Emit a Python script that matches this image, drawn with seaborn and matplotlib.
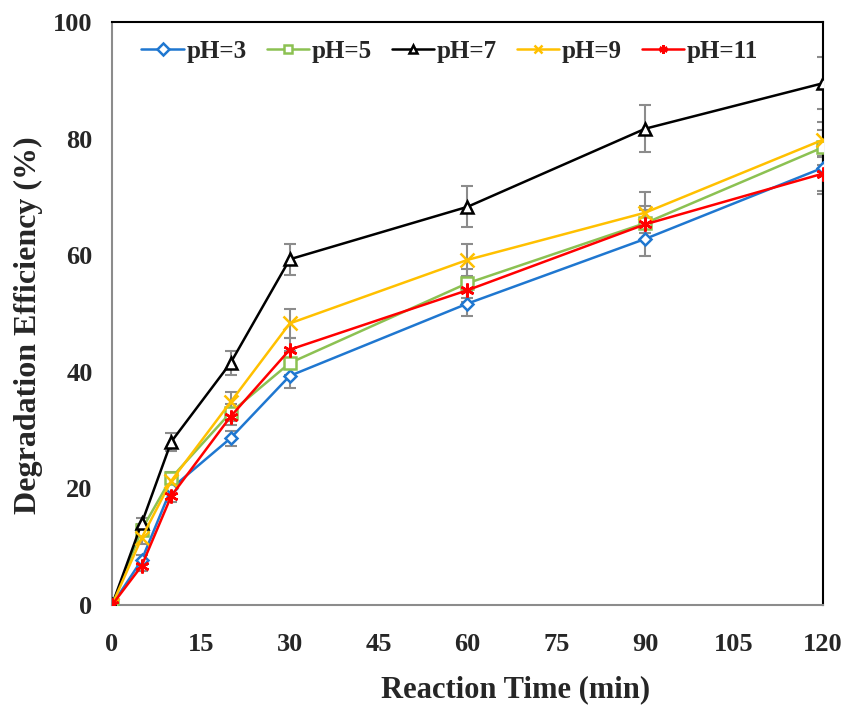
import numpy as np
import pandas as pd
import matplotlib
matplotlib.use("Agg")
import matplotlib.pyplot as plt
import seaborn as sns

time = [0, 5, 10, 20, 30, 60, 90, 120]
labels = ["pH=3", "pH=5", "pH=7", "pH=9", "pH=11"]
ph3 = [0, 7.7, 20.0, 28.6, 39.3, 51.7, 62.8, 75.0]
ph5 = [0, 12.9, 21.8, 33.0, 41.5, 55.2, 65.5, 78.5]
ph7 = [0, 14.0, 28.0, 41.5, 59.3, 68.3, 81.7, 89.5]
ph9 = [0, 11.5, 21.3, 34.8, 48.3, 59.2, 67.3, 79.8]
ph11 = [0, 6.7, 18.7, 32.3, 43.8, 54.0, 65.3, 74.0]
err3 = [0, 0.8, 1.0, 1.3, 2.0, 2.2, 3.0, 4.5]
err5 = [0, 1.0, 1.0, 1.5, 2.0, 2.5, 3.0, 3.0]
err7 = [0, 1.0, 1.5, 2.0, 2.7, 3.5, 4.0, 4.5]
err9 = [0, 1.0, 1.0, 1.7, 2.5, 2.8, 3.5, 3.0]
err11 = [0, 0.8, 1.0, 1.5, 2.0, 2.0, 2.5, 3.0]

values = [ph3, ph5, ph7, ph9, ph11]
errors = [err3, err5, err7, err9, err11]
colors = ["#1f77d0", "#8cc152", "#000000", "#ffc000", "#ff0000"]
markers = ["D", "s", "^", "x", (6, 2, 0)]
msizes = [6, 8, 9, 10, 10]

rows = []
for lab, v in zip(labels, values):
    for t, y in zip(time, v):
        rows.append({"time": t, "eff": y, "pH": lab})
df = pd.DataFrame(rows)

sns.set_theme(style="white")
plt.rcParams["font.family"] = ["Liberation Serif", "DejaVu Serif"]
plt.rcParams["font.weight"] = "bold"

fig = plt.figure(figsize=(8.46, 7.1), dpi=100)
ax = fig.add_axes([0.1324, 0.1479, 0.8404, 0.8211])

for lab, v, e in zip(labels, values, errors):
    ax.errorbar(time, v, yerr=e, fmt="none", ecolor="#8c8c8c", elinewidth=1.5,
                capsize=4, capthick=1.5, zorder=1)

for i, lab in enumerate(labels):
    sub = df[df["pH"] == lab]
    sns.lineplot(data=sub, x="time", y="eff", ax=ax, color=colors[i], lw=1.8,
                 marker=markers[i], markersize=msizes[i],
                 markerfacecolor="white" if i < 3 else colors[i],
                 markeredgecolor=colors[i], markeredgewidth=1.8,
                 label=lab, zorder=3)

ax.set_xlim(0, 120)
ax.set_ylim(0, 100)
ax.set_xticks(np.arange(0, 121, 15))
ax.set_yticks(np.arange(0, 101, 20))
ax.tick_params(axis="x", labelsize=19, length=0, pad=20)
ax.tick_params(axis="y", labelsize=19, length=0, pad=14)
for t in ax.get_xticklabels() + ax.get_yticklabels():
    t.set_fontweight("bold")
ax.set_xlabel("Reaction Time (min)", fontsize=22, fontweight="bold")
ax.set_ylabel("Degradation Efficiency (%)", fontsize=23, fontweight="bold")
ax.xaxis.set_label_coords(0.567, -0.12)
ax.yaxis.set_label_coords(-0.097, 0.48)
for s in ax.spines.values():
    s.set_color("#8c8c8c")
    s.set_linewidth(1.5)
ax.spines["right"].set_color("#000000")
ax.spines["top"].set_color("#000000")

leg = ax.legend(loc="upper center", ncol=5, frameon=False, fontsize=18,
                handlelength=1.7, handletextpad=0.1, columnspacing=0.8,
                bbox_to_anchor=(0.475, 0.995), borderaxespad=0.2)
for t in leg.get_texts():
    t.set_fontweight("bold")
for h in leg.legend_handles:
    h.set_markersize(6)

fig.savefig("out.png", dpi=100)
